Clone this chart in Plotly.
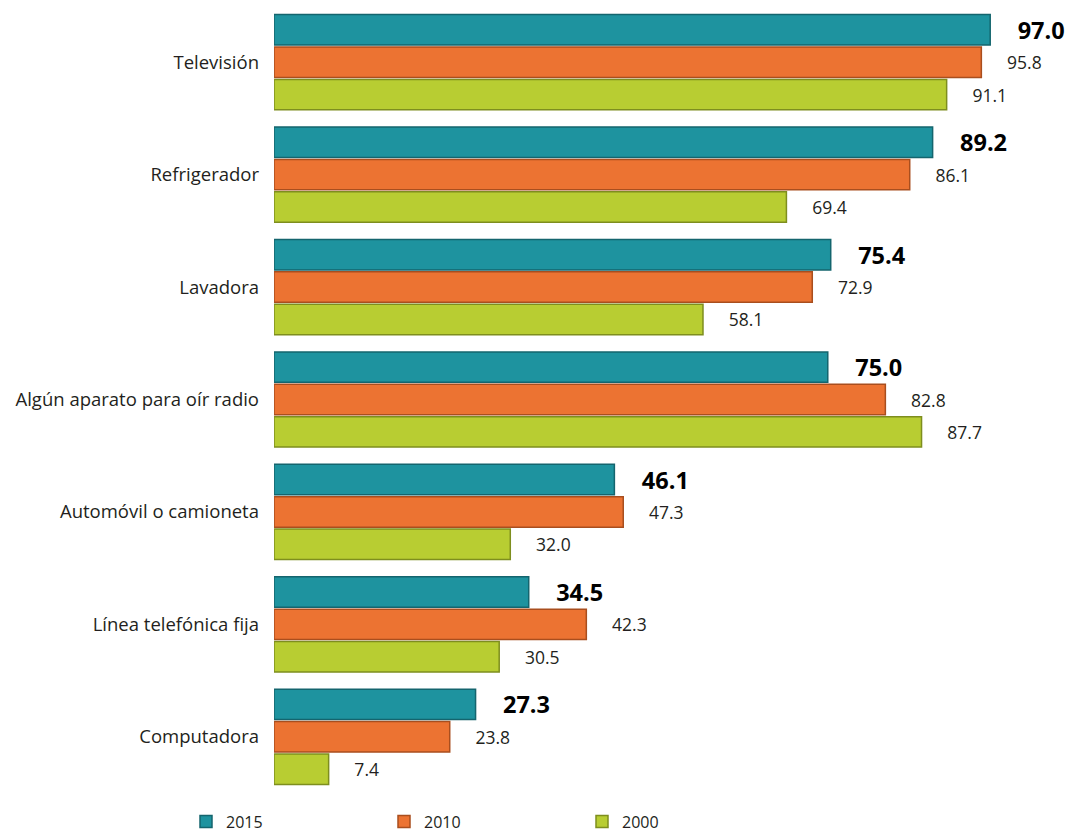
import plotly.graph_objects as go

categorias = ["Televisión", "Refrigerador", "Lavadora", "Algún aparato para oír radio",
              "Automóvil o camioneta", "Línea telefónica fija", "Computadora"]
v2015 = [97.0, 89.2, 75.4, 75.0, 46.1, 34.5, 27.3]
v2010 = [95.8, 86.1, 72.9, 82.8, 47.3, 42.3, 23.8]
v2000 = [91.1, 69.4, 58.1, 87.7, 32.0, 30.5, 7.4]

fig = go.Figure()
fig.add_trace(go.Bar(
    name="2015", y=categorias, x=v2015, orientation="h",
    marker=dict(color="#1E939F", line=dict(color="#14656E", width=1.5)),
    texttemplate="\u00a0" * 4 + "<b>%{x:.1f}</b>", textposition="outside",
    outsidetextfont=dict(size=23.5, color="#000000", family="Open Sans"),
))
fig.add_trace(go.Bar(
    name="2010", y=categorias, x=v2010, orientation="h",
    marker=dict(color="#EC7332", line=dict(color="#A94E1E", width=1.5)),
    texttemplate="\u00a0" * 5 + "%{x:.1f}", textposition="outside",
    outsidetextfont=dict(size=17.5, color="#231F20", family="Open Sans"),
))
fig.add_trace(go.Bar(
    name="2000", y=categorias, x=v2000, orientation="h",
    marker=dict(color="#B8CD32", line=dict(color="#7E8E1E", width=1.5)),
    texttemplate="\u00a0" * 5 + "%{x:.1f}", textposition="outside",
    outsidetextfont=dict(size=17.5, color="#231F20", family="Open Sans"),
))

fig.update_traces(cliponaxis=False, constraintext="none")

fig.update_layout(
    width=1067, height=835,
    barmode="group", bargap=0.136, bargroupgap=0.06,
    paper_bgcolor="white", plot_bgcolor="white",
    margin=dict(l=274, r=0, t=6, b=42),
    font=dict(family="Open Sans", size=17, color="#231F20"),
    xaxis=dict(range=[0, 107.4], visible=False),
    yaxis=dict(autorange="reversed", showgrid=False, showline=False,
               ticks="", ticklabelstandoff=14, tickfont=dict(size=18.5)),
    legend=dict(orientation="h", xref="container", yref="container",
                x=186 / 1067, y=0.016, xanchor="left", yanchor="middle",
                entrywidth=153, font=dict(size=16), traceorder="normal"),
    showlegend=True,
)

# quitar el margen por defecto del body para que la figura llene la ventana
fig.write_html("out.html", config={"displayModeBar": False},
               post_script="document.body.style.margin='0px';")
